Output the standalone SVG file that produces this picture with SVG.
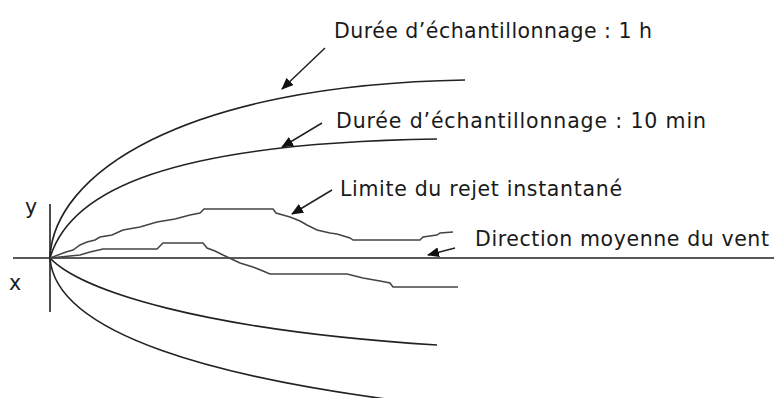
<svg xmlns="http://www.w3.org/2000/svg" width="774" height="398" viewBox="0 0 774 398">
<style>
.ln{fill:none;stroke:#222;stroke-width:1.6}
.st{fill:none;stroke:#444;stroke-width:1.5;stroke-linejoin:miter}
.ar{fill:none;stroke:#222;stroke-width:1.5}
text{font-family:"DejaVu Sans","Verdana",sans-serif;font-size:20.5px;fill:#1a1a1a}
</style>
<defs>
<marker id="ah" viewBox="0 0 12 10" refX="11" refY="5" markerWidth="12" markerHeight="10" markerUnits="userSpaceOnUse" orient="auto">
<path d="M0,0 L12,5 L0,10 Z" fill="#111"/>
</marker>
</defs>
<rect width="774" height="398" fill="#fff"/>
<g id="axes">
<line class="ln" x1="13" y1="258" x2="774" y2="258"/>
<line class="ln" x1="50" y1="204" x2="50" y2="312"/>
<text x="25" y="214">y</text>
<text x="9" y="290">x</text>
</g>
<g id="curve-1h-upper"><path class="ln" d="M50,258 C53,175 180,85 465,80"/></g>
<g id="curve-10min-upper"><path class="ln" d="M50,258 C70,190 170,143 437,139"/></g>
<g id="curve-10min-lower"><path class="ln" d="M50,258 C80,290 200,330 437,345"/></g>
<g id="curve-1h-lower"><path class="ln" d="M50,258 C55,330 200,382 480,410"/></g>
<g id="limit-upper"><polyline class="st" points="50,258 66,252 73,250 80,245 87,242 95,240 100,237 112,235 123,230 140,227 157,222 175,219 190,215 200,213 204,209 273,209 276,213 290,217 300,221 307,225 317,230 330,233 337,234 350,238 353,240 420,240 423,237 437,235 440,233 453,232"/></g>
<g id="limit-lower"><polyline class="st" points="50,258 80,255 90,252 103,249 157,249 163,243 203,243 207,248 215,251 223,255 240,263 253,267 263,271 270,274 347,274 363,278 380,281 390,283 393,287 458,287"/></g>
<g id="connectors">
<line class="ar" x1="325" y1="48" x2="282" y2="89" marker-end="url(#ah)"/>
<line class="ar" x1="322" y1="123" x2="282" y2="147" marker-end="url(#ah)"/>
<line class="ar" x1="332" y1="190" x2="292" y2="214" marker-end="url(#ah)"/>
<line class="ar" x1="455" y1="248" x2="428" y2="255" marker-end="url(#ah)"/>
</g>
<g id="label-1h"><text x="334" y="38" textLength="318" lengthAdjust="spacing">Durée d’échantillonnage : 1 h</text></g>
<g id="label-10min"><text x="336" y="128" textLength="370" lengthAdjust="spacing">Durée d’échantillonnage : 10 min</text></g>
<g id="label-limite"><text x="340" y="196" textLength="282" lengthAdjust="spacing">Limite du rejet instantané</text></g>
<g id="label-direction"><text x="475" y="246" textLength="294" lengthAdjust="spacing">Direction moyenne du vent</text></g>
</svg>
